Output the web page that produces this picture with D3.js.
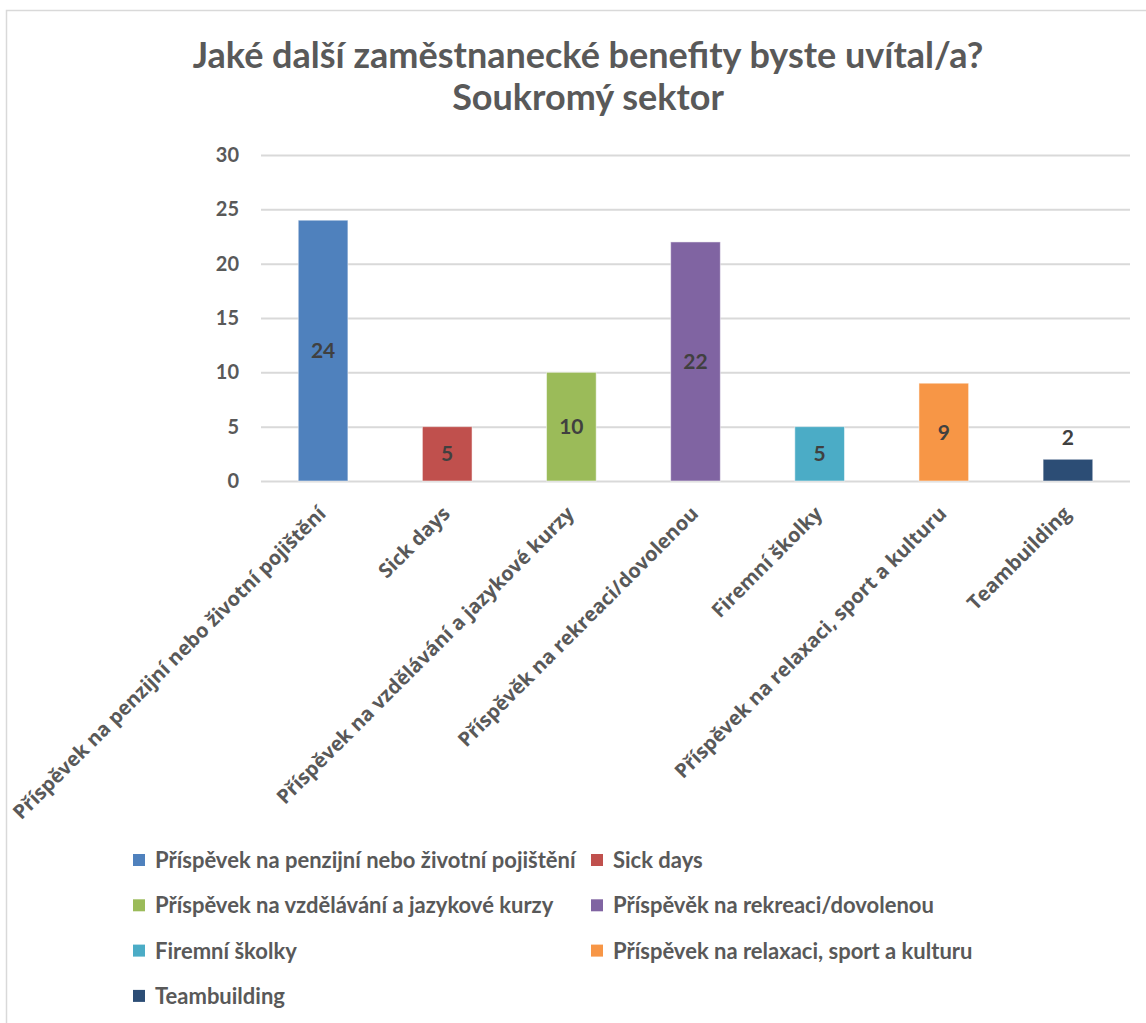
<!DOCTYPE html>
<html>
<head>
  <meta charset="utf-8">
  <style type="text/css">
  body {
    margin: 0;
    font-family: Lato, "Noto Sans", sans-serif;
    background: #fff;
  }
  .axis text {
    font-family: Lato, "Noto Sans", sans-serif;
    font-size: 20px;
    font-weight: bold;
    fill: #595959;
  }
  .x.axis text {
    font-family: "Open Sans", "Noto Sans", sans-serif;
    font-size: 20px;
  }
  .axis path {
    display: none;
  }
  .y.axis line {
    stroke: #d9d9d9;
    stroke-width: 2px;
  }
  .x.axis line {
    display: none;
  }
  .title {
    font-size: 36px;
    font-weight: bold;
    fill: #595959;
  }
  .bar-label {
    font-size: 21px;
    font-weight: bold;
    fill: #404040;
  }
  .legend text {
    font-size: 22px;
    font-weight: bold;
    fill: #595959;
  }
  </style>
</head>
<body>
  <script src="https://d3js.org/d3.v7.min.js"></script>
  <script>
    // data
    var categories = [
      "Příspěvek na penzijní nebo životní pojištění",
      "Sick days",
      "Příspěvek na vzdělávání a jazykové kurzy",
      "Příspěvěk na rekreaci/dovolenou",
      "Firemní školky",
      "Příspěvek na relaxaci, sport a kulturu",
      "Teambuilding"
    ];
    var values = [24, 5, 10, 22, 5, 9, 2];
    var colors = ["#4f81bd", "#c0504d", "#9bbb59", "#8064a2", "#4bacc6", "#f79646", "#2c4d75"];
    var yTicks = [0, 5, 10, 15, 20, 25, 30];
    var titleLines = ["Jaké další zaměstnanecké benefity byste uvítal/a?", "Soukromý sektor"];

    var data = categories.map(function(c, i) { return {name: c, value: values[i], color: colors[i]}; });

    var W = 1146, H = 1023;
    var margin = {top: 155, left: 261, right: 16, bottom: 542};
    var width = W - margin.left - margin.right,
        height = H - margin.top - margin.bottom;

    var svg = d3.select("body").append("svg")
        .attr("width", W)
        .attr("height", H);

    // chart border
    svg.append("path")
        .attr("d", "M6.5," + H + "V10.5H" + W)
        .attr("fill", "none")
        .attr("stroke", "#d9d9d9")
        .attr("stroke-width", 1.5);

    svg.selectAll(".title")
        .data(titleLines)
      .enter().append("text")
        .attr("class", "title")
        .attr("x", 588)
        .attr("y", function(d, i) { return 68 + i * 42; })
        .attr("text-anchor", "middle")
        .text(function(d) { return d; });

    var g = svg.append("g")
        .attr("transform", "translate(" + margin.left + "," + margin.top + ")");

    var x = d3.scaleBand()
        .domain(categories)
        .range([0, width])
        .paddingInner(0.6)
        .paddingOuter(0.3);
    var y = d3.scaleLinear()
        .domain([0, 30])
        .range([height, 0]);

    var yAxis = d3.axisLeft(y)
        .tickValues(yTicks)
        .tickSize(-width)
        .tickPadding(22);
    g.append("g")
        .attr("class", "y axis")
        .call(yAxis);

    var xAxis = d3.axisBottom(x).tickSize(0).tickPadding(0);
    var xg = g.append("g")
        .attr("class", "x axis")
        .attr("transform", "translate(0," + height + ")")
        .call(xAxis);
    xg.selectAll("text")
        .attr("text-anchor", "end")
        .attr("dy", "0.35em")
        .attr("transform", "translate(-1,29) rotate(-45)");

    g.selectAll(".bar")
        .data(data)
      .enter().append("rect")
        .attr("class", "bar")
        .attr("x", function(d) { return x(d.name); })
        .attr("y", function(d) { return y(d.value); })
        .attr("width", x.bandwidth())
        .attr("height", function(d) { return height - y(d.value); })
        .attr("fill", function(d) { return d.color; })
        .attr("stroke", "rgba(255,255,255,0.5)")
        .attr("stroke-width", 1);

    g.selectAll(".bar-label")
        .data(data)
      .enter().append("text")
        .attr("class", "bar-label")
        .attr("x", function(d) { return x(d.name) + x.bandwidth() / 2; })
        .attr("y", function(d) {
          if (d.value < 4) return y(d.value) - 22;
          return (y(d.value) + height) / 2;
        })
        .attr("dy", "0.36em")
        .attr("text-anchor", "middle")
        .text(function(d) { return d.value; });

    // legend, two columns
    var legend = svg.append("g").attr("class", "legend");
    var item = legend.selectAll("g")
        .data(data)
      .enter().append("g")
        .attr("transform", function(d, i) {
          return "translate(" + (i % 2 ? 591 : 133) + "," + (860 + Math.floor(i / 2) * 45.3) + ")";
        });
    item.append("rect")
        .attr("x", 0)
        .attr("y", -6)
        .attr("width", 12)
        .attr("height", 12)
        .attr("fill", function(d) { return d.color; });
    item.append("text")
        .attr("x", 22)
        .attr("dy", "0.36em")
        .text(function(d) { return d.name; });
  </script>
</body>
</html>
